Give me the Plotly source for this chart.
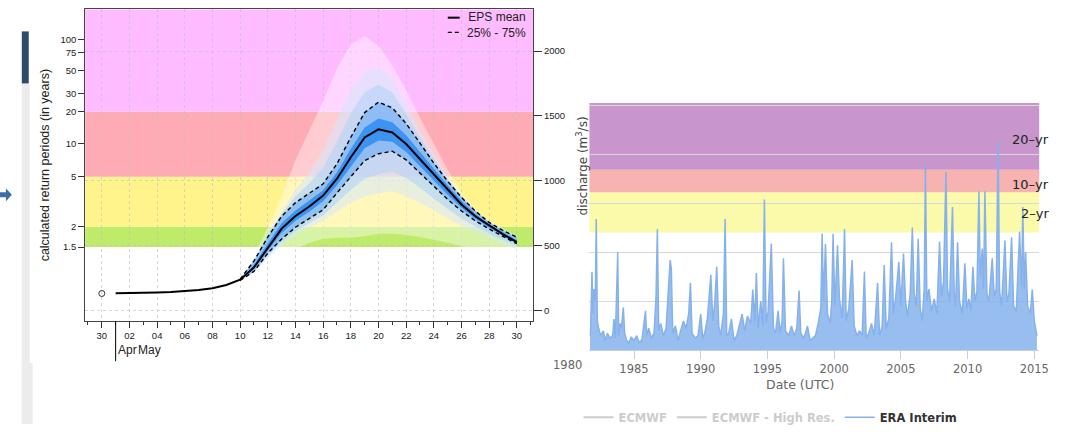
import numpy as np
import pandas as pd
import plotly.graph_objects as go

W, H = 1072, 432

# ---------------- Left panel: EPS discharge forecast ----------------
obs_date = ["2014-04-30"]
obs_q = [129]

mean_dates = pd.date_range("2014-05-01", "2014-05-30", freq="D")
eps_mean = [130, 131, 133, 136, 140, 146, 155, 170, 195, 235, 330, 480, 630, 727, 800,
            885, 1015, 1180, 1333, 1396, 1371, 1283, 1165, 1045, 930, 816, 725, 652, 585, 525]

fan_dates = pd.date_range("2014-05-10", "2014-05-30", freq="D")
eps_max = [245, 420, 640, 880, 1159, 1386, 1614, 1864, 2053, 2116, 2040, 1889, 1699, 1485,
           1283, 1083, 904, 780, 689, 629, 576]
eps_p90 = [240, 390, 590, 760, 930, 1060, 1230, 1470, 1700, 1840, 1870, 1790, 1590, 1380,
           1200, 1030, 885, 773, 683, 622, 570]
eps_p83 = [240, 385, 578, 742, 880, 980, 1100, 1300, 1520, 1680, 1740, 1680, 1515, 1335,
           1168, 1012, 878, 769, 680, 618, 566]
eps_p75 = [240, 380, 565, 725, 830, 905, 975, 1130, 1335, 1525, 1606, 1561, 1440, 1290,
           1135, 995, 870, 765, 677, 615, 563]
eps_p60 = [237, 350, 515, 670, 770, 845, 925, 1065, 1245, 1410, 1480, 1450, 1350, 1220,
           1090, 965, 845, 745, 665, 600, 540]
eps_p40 = [233, 315, 460, 595, 690, 760, 840, 965, 1110, 1250, 1310, 1300, 1220, 1110,
           1000, 890, 790, 705, 638, 577, 518]
eps_p25 = [230, 300, 440, 550, 640, 705, 775, 905, 1030, 1155, 1207, 1227, 1160, 1060,
           955, 855, 765, 690, 626, 570, 513]
eps_p17 = [229, 295, 420, 525, 610, 672, 732, 832, 930, 1015, 1050, 1070, 1020, 945,
           860, 780, 705, 645, 590, 540, 492]
eps_p10 = [228, 290, 400, 500, 580, 640, 690, 760, 830, 880, 900, 920, 880, 830,
           770, 710, 650, 600, 555, 510, 470]
eps_min = [225, 280, 370, 430, 470, 520, 550, 560, 560, 570, 590, 590, 580, 565,
           545, 520, 495, 460, 425, 390, 350]

# Gumbel fit linking return period (years) and discharge
gumbel_loc, gumbel_scale = 519.0, 341.0
return_period_ticks = [1.5, 2, 5, 10, 20, 30, 50, 75, 100]
band_periods = [1.5, 2, 5, 20]
band_colors = ["#BFEB6B", "#FFF38C", "#FFABB5", "#FFBBFF"]
discharge_ticks = [0, 500, 1000, 1500, 2000]
legend_labels = ["EPS mean", "25% - 75%"]

def rp_to_q(t):
    return gumbel_loc + gumbel_scale * (-np.log(-np.log(1.0 - 1.0 / t)))

# ---------------- Right panel: ERA Interim reanalysis ----------------
era_year = [1981.7, 1981.75, 1981.85, 1981.92, 1982.0, 1982.1, 1982.17, 1982.25, 1982.35, 1982.5,
            1982.7, 1982.85, 1983.0, 1983.2, 1983.4, 1983.5, 1983.6, 1983.78, 1983.85, 1983.95,
            1984.05, 1984.2, 1984.3, 1984.45, 1984.6, 1984.8, 1985.0, 1985.2, 1985.4, 1985.6,
            1985.86, 1985.95, 1986.1, 1986.3, 1986.5, 1986.65, 1986.75, 1986.85, 1987.0, 1987.2,
            1987.4, 1987.71, 1987.8, 1987.9, 1988.1, 1988.3, 1988.5, 1988.7, 1988.9, 1989.1,
            1989.23, 1989.35, 1989.6, 1989.8, 1990.0, 1990.15, 1990.3, 1990.5, 1990.76, 1990.9,
            1991.05, 1991.2, 1991.35, 1991.5, 1991.7, 1991.83, 1991.95, 1992.1, 1992.3, 1992.5,
            1992.7, 1992.9, 1993.1, 1993.3, 1993.5, 1993.75, 1993.9, 1994.05, 1994.17, 1994.3,
            1994.5, 1994.65, 1994.77, 1994.9, 1995.05, 1995.29, 1995.45, 1995.6, 1995.8, 1995.95,
            1996.1, 1996.2, 1996.35, 1996.6, 1996.8, 1997.0, 1997.2, 1997.37, 1997.5, 1997.7,
            1997.85, 1998.0, 1998.2, 1998.4, 1998.6, 1998.8, 1999.0, 1999.1, 1999.2, 1999.35,
            1999.5, 1999.7, 1999.82, 1999.92, 2000.05, 2000.25, 2000.4, 2000.6, 2000.78, 2000.9,
            2001.1, 2001.35, 2001.5, 2001.7, 2001.9, 2002.1, 2002.27, 2002.4, 2002.6, 2002.8,
            2003.0, 2003.26, 2003.4, 2003.6, 2003.75, 2003.9, 2004.1, 2004.3, 2004.45, 2004.6,
            2004.85, 2005.0, 2005.2, 2005.35, 2005.5, 2005.7, 2005.86, 2006.0, 2006.15, 2006.3,
            2006.45, 2006.6, 2006.75, 2006.84, 2006.95, 2007.1, 2007.3, 2007.5, 2007.7, 2007.9,
            2008.05, 2008.2, 2008.38, 2008.5, 2008.65, 2008.87, 2009.0, 2009.1, 2009.25, 2009.4,
            2009.6, 2009.8, 2009.95, 2010.1, 2010.25, 2010.4, 2010.55, 2010.7, 2010.85, 2010.95,
            2011.1, 2011.2, 2011.3, 2011.45, 2011.6, 2011.85, 2012.0, 2012.15, 2012.29, 2012.4,
            2012.55, 2012.8, 2012.95, 2013.1, 2013.3, 2013.45, 2013.65, 2013.9, 2014.05, 2014.14,
            2014.25, 2014.35, 2014.5, 2014.7, 2014.85, 2015.0, 2015.2]
era_q = [60, 90, 320, 150, 250, 200, 535, 120, 90, 60,
         80, 40, 70, 50, 60, 128, 50, 401, 60, 110,
         90, 175, 70, 40, 30, 55, 40, 60, 30, 45,
         161, 60, 90, 50, 70, 221, 495, 80, 110, 60,
         90, 368, 333, 70, 100, 40, 80, 120, 90, 150,
         275, 70, 50, 60, 148, 50, 70, 130, 308, 120,
         190, 341, 100, 60, 150, 535, 60, 70, 128, 40,
         60, 100, 148, 80, 140, 110, 248, 120, 315, 90,
         201, 100, 615, 110, 160, 435, 90, 70, 161, 70,
         120, 375, 80, 60, 100, 60, 90, 244, 70, 50,
         70, 100, 40, 50, 60, 110, 170, 475, 200, 435,
         150, 110, 200, 475, 180, 428, 210, 130, 495, 120,
         170, 368, 100, 60, 80, 60, 321, 50, 70, 110,
         60, 275, 60, 100, 348, 90, 130, 441, 150, 210,
         361, 180, 395, 200, 140, 230, 501, 230, 180, 455,
         170, 120, 250, 751, 200, 250, 160, 210, 150, 444,
         220, 280, 728, 250, 200, 584, 230, 180, 441, 200,
         150, 355, 170, 210, 160, 341, 200, 240, 648, 300,
         415, 250, 648, 230, 200, 375, 220, 250, 852, 240,
         180, 448, 200, 230, 461, 180, 160, 484, 260, 584,
         250, 401, 180, 150, 248, 120, 60]

era_bands = [480, 644, 736]          # lower edges of yellow, red, purple bands
era_band_colors = ["#FAFAAA", "#F7B2B2", "#C895CC"]
era_labels = ["2–yr", "10–yr", "20–yr"]
era_year_ticks = [1985, 1990, 1995, 2000, 2005, 2010, 2015]

# ---------------- helpers for paper coordinates ----------------
def px(x):
    return x / W

def py(y):
    return 1 - y / H

LEFT_Y_RANGE = [-83, 2322]
LEFT_X_RANGE = ["2014-04-28 19:12", "2014-05-31 04:00"]
RIGHT_X_RANGE = [1981.66, 2015.37]
RIGHT_Y_RANGE = [0, 1008]

fig = go.Figure()

# fan layers (outer to inner)
fan_layers = [
    (eps_max, eps_min, "rgba(255,255,255,0.40)"),
    (eps_p90, eps_p10, "rgba(214,232,252,0.55)"),
    (eps_p83, eps_p17, "rgba(172,210,248,0.55)"),
    (eps_p75, eps_p25, "rgba(105,172,245,0.60)"),
    (eps_p60, eps_p40, "rgba(25,130,240,0.70)"),
]
fx = list(fan_dates) + list(fan_dates[::-1])
for up, lo, col in fan_layers:
    fig.add_trace(go.Scatter(x=fx, y=list(up) + list(lo[::-1]), fill="toself",
                             fillcolor=col, line=dict(width=0), mode="lines",
                             hoverinfo="skip", showlegend=False, xaxis="x", yaxis="y"))

DASH = dict(color="black", width=1.4, dash="4px,3px")
fig.add_trace(go.Scatter(x=fan_dates, y=eps_p75, mode="lines", name="75%",
                         line=DASH, showlegend=False, xaxis="x", yaxis="y"))
fig.add_trace(go.Scatter(x=fan_dates, y=eps_p25, mode="lines", name="25%",
                         line=DASH, showlegend=False, xaxis="x", yaxis="y"))
fig.add_trace(go.Scatter(x=mean_dates, y=eps_mean, mode="lines", name="EPS mean",
                         line=dict(color="black", width=2), showlegend=False,
                         xaxis="x", yaxis="y"))
fig.add_trace(go.Scatter(x=obs_date, y=obs_q, mode="markers", showlegend=False,
                         marker=dict(symbol="circle-open", size=6, color="#333",
                                     line=dict(width=1)),
                         xaxis="x", yaxis="y2"))

# right panel
fig.add_trace(go.Scatter(x=[None], y=[None], mode="lines",
                         name="<span style='color:#cccccc'>ECMWF</span>",
                         line=dict(color="#cccccc", width=2), legend="legend2",
                         xaxis="x2", yaxis="y3"))
fig.add_trace(go.Scatter(x=[None], y=[None], mode="lines",
                         name="<span style='color:#cccccc'>ECMWF - High Res.</span>",
                         line=dict(color="#cccccc", width=2), legend="legend2",
                         xaxis="x2", yaxis="y3"))
fig.add_trace(go.Scatter(x=era_year, y=era_q, mode="none", fill="tozeroy",
                         fillcolor="rgba(134,178,236,0.85)", showlegend=False,
                         hoverinfo="skip", xaxis="x2", yaxis="y3"))
fig.add_trace(go.Scatter(x=era_year, y=era_q, mode="lines", name="ERA Interim",
                         line=dict(color="#86B2EC", width=1.5), legend="legend2",
                         xaxis="x2", yaxis="y3"))

shapes = []
for i, t in enumerate(band_periods):
    y0 = rp_to_q(t)
    y1 = rp_to_q(band_periods[i + 1]) if i + 1 < len(band_periods) else LEFT_Y_RANGE[1]
    shapes.append(dict(type="rect", xref="x domain", yref="y", x0=0, x1=1, y0=y0, y1=y1,
                       fillcolor=band_colors[i], line=dict(width=0), layer="below"))
for i, b in enumerate(era_bands):
    y1 = era_bands[i + 1] if i + 1 < len(era_bands) else RIGHT_Y_RANGE[1]
    shapes.append(dict(type="rect", xref="x2 domain", yref="y3", x0=0, x1=1, y0=b, y1=y1,
                       fillcolor=era_band_colors[i], line=dict(width=0), layer="below"))
shapes.append(dict(type="line", xref="x", yref="paper", x0="2014-05-01", x1="2014-05-01",
                   y0=py(368), y1=py(327), line=dict(color="black", width=1)))
# legend samples of the left panel
LEG_Y = [18, 33]
shapes.append(dict(type="line", xref="paper", yref="paper", x0=px(452), x1=px(464),
                   y0=py(LEG_Y[0]), y1=py(LEG_Y[0]), line=dict(color="black", width=2)))
shapes.append(dict(type="line", xref="paper", yref="paper", x0=px(452), x1=px(464),
                   y0=py(LEG_Y[1]), y1=py(LEG_Y[1]),
                   line=dict(color="black", width=1.4, dash="4px,3px")))
# remnants of the neighbouring screenshot on the far left
shapes.append(dict(type="rect", xref="paper", yref="paper", x0=px(22), x1=px(30),
                   y0=0, y1=py(85), fillcolor="#ECECEC", line=dict(width=0), layer="below"))
shapes.append(dict(type="rect", xref="paper", yref="paper", x0=px(22), x1=px(33),
                   y0=0, y1=py(370), fillcolor="#ECECEC", line=dict(width=0), layer="below"))
shapes.append(dict(type="rect", xref="paper", yref="paper", x0=px(22), x1=px(29),
                   y0=py(85), y1=py(32), fillcolor="#2E4A68", line=dict(width=0), layer="below"))
arrow = [(0, 196), (6, 196), (6, 192), (12, 198.5), (6, 205), (6, 201), (0, 201)]
shapes.append(dict(type="path", xref="paper", yref="paper",
                   path="M " + " L ".join(f"{px(a):.5f},{py(b):.5f}" for a, b in arrow) + " Z",
                   fillcolor="#3C6EA6", line=dict(width=0)))

LFONT = "Liberation Sans"
annotations = []
annotations.append(dict(text="<br>".join(legend_labels), x=px(533), y=py(25.5),
                        xref="paper", yref="paper", align="right",
                        xanchor="right", yanchor="middle", showarrow=False,
                        font=dict(family=LFONT, size=12, color="#222")))
annotations.append(dict(text="Apr", x="2014-05-01", y=py(357), xref="x", yref="paper",
                        xanchor="left", yanchor="middle", showarrow=False, xshift=0,
                        font=dict(family=LFONT, size=12, color="#222")))
annotations.append(dict(text="May", x="2014-05-01", y=py(357), xref="x", yref="paper",
                        xanchor="left", yanchor="middle", showarrow=False, xshift=20,
                        font=dict(family=LFONT, size=12, color="#222")))
annotations.append(dict(text="discharge (m<sup>3</sup>/s)", x=px(587), y=py(169),
                        xref="paper", yref="paper", textangle=-90, showarrow=False,
                        xanchor="center", yanchor="middle",
                        font=dict(family="DejaVu Sans", size=12, color="#444")))
annotations.append(dict(text="Date (UTC)", x=px(808), y=py(392), xref="paper", yref="paper",
                        showarrow=False, xanchor="center", yanchor="middle",
                        font=dict(family="DejaVu Sans", size=12.5, color="#666")))
frac1980 = (1980 - RIGHT_X_RANGE[0]) / (RIGHT_X_RANGE[1] - RIGHT_X_RANGE[0])
annotations.append(dict(text="1980", x=frac1980, y=py(372), xref="x2 domain", yref="paper",
                        showarrow=False, xanchor="center", yanchor="middle",
                        font=dict(family="DejaVu Sans", size=11.5, color="#666")))
label_y = [556, 676, 860]
for lab, ly in zip(era_labels, label_y):
    annotations.append(dict(text=lab, x=px(1061), y=ly, xref="paper", yref="y3",
                            showarrow=False, xanchor="right", yanchor="middle",
                            font=dict(family="DejaVu Sans", size=13, color="#222")))

tickfont_l = dict(family=LFONT, size=9.5, color="#222")

fig.update_layout(
    width=W, height=H, margin=dict(l=0, r=0, t=0, b=0),
    paper_bgcolor="white", plot_bgcolor="white",
    shapes=shapes, annotations=annotations,
    xaxis=dict(domain=[px(86), px(538)], anchor="y", type="date", range=LEFT_X_RANGE,
               tick0="2014-04-30", dtick=2 * 86400000, tickformat="%d",
               ticks="outside", ticklen=6, tickcolor="#333", tickfont=tickfont_l,
               minor=dict(dtick=86400000, ticks="outside", ticklen=3, tickcolor="#333",
                          showgrid=False),
               showgrid=True, gridcolor="rgba(190,190,190,0.6)", griddash="dot",
               showline=True, linecolor="#444", linewidth=1, mirror=True, zeroline=False),
    yaxis=dict(domain=[py(327), py(9.5)], anchor="x", range=LEFT_Y_RANGE,
               tickmode="array", tickvals=[rp_to_q(t) for t in return_period_ticks],
               ticktext=[f"{t:g}" for t in return_period_ticks],
               ticks="outside", ticklen=6, tickcolor="#333", tickfont=tickfont_l,
               showgrid=False, zeroline=False, showline=True, linecolor="#444",
               linewidth=1, mirror=True,
               title=dict(text="calculated return periods (in years)",
                          font=dict(family=LFONT, size=12.5, color="#222"),
                          standoff=8)),
    yaxis2=dict(overlaying="y", side="right", anchor="x", range=LEFT_Y_RANGE,
                tickmode="array", tickvals=discharge_ticks, ticks="outside", ticklen=8,
                tickcolor="#333", tickfont=tickfont_l, showline=True, linecolor="#444",
                showgrid=True, gridcolor="rgba(190,190,190,0.6)", griddash="dot",
                zeroline=False),
    xaxis2=dict(domain=[px(595), px(1049)], anchor="y3", range=RIGHT_X_RANGE,
                tickmode="array", tickvals=era_year_ticks, ticks="outside", ticklen=8,
                tickcolor="#C0D0E0", showline=True, linecolor="#C0D0E0", linewidth=1,
                showgrid=False, zeroline=False,
                tickfont=dict(family="DejaVu Sans", size=11.5, color="#666")),
    yaxis3=dict(domain=[py(357), py(105)], anchor="x2", range=RIGHT_Y_RANGE,
                dtick=200, showticklabels=False, showgrid=True, gridcolor="#D8D8D8",
                zeroline=False, showline=False),
    showlegend=True,
    legend2=dict(orientation="h", x=px(584), y=py(425), xanchor="left", yanchor="middle",
                 bgcolor="rgba(0,0,0,0)", itemwidth=30,
                 font=dict(family="DejaVu Sans", size=11.5, color="#333", weight="bold")),
)

fig.write_html("out.html")
